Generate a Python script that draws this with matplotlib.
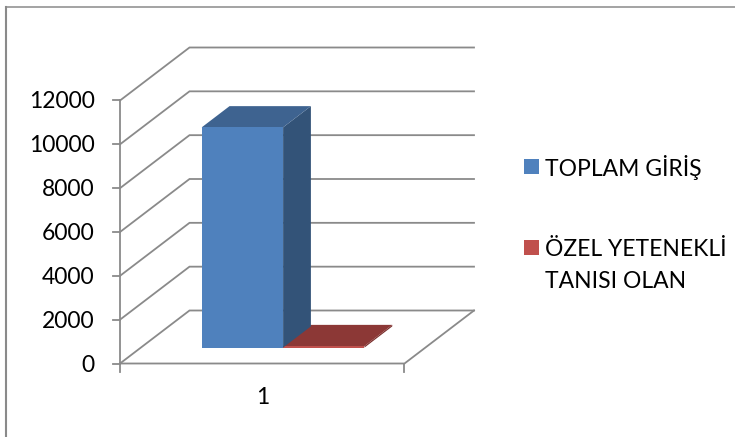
import matplotlib
matplotlib.use("Agg")
import matplotlib.pyplot as plt
from matplotlib.patches import Polygon, Rectangle

plt.rcParams['font.family'] = ['Lato', 'DejaVu Sans']

W, H = 735, 437
categories = ["1"]
series_names = ["TOPLAM GİRİŞ", "ÖZEL YETENEKLİ\nTANISI OLAN"]
series_values = [10050, 70]
y_ticks = [0, 2000, 4000, 6000, 8000, 10000, 12000]
front = ["#4F81BD", "#C0504D"]
side = ["#335378", "#7A2F2D"]
top = ["#3E6390", "#8C3836"]
GRID = "#8A8A8A"

# pixel geometry of the axes box
X0, X1 = 120.0, 404.5
Y0, Y12 = 363.5, 100.5
DX, DY = 69.5, 53.0
ymax = y_ticks[-1]
px_per_val = (Y0 - Y12) / ymax
px_per_x = X1 - X0

fig = plt.figure(figsize=(W / 100, H / 100), dpi=100, facecolor="white")
ax = fig.add_axes([0, 0, 1, 1])
ax.set_xlim((0 - X0) / px_per_x, (W - X0) / px_per_x)
ax.set_ylim((Y0 - H) / px_per_val, Y0 / px_per_val)
ax.axis("off")


def P(x, y, d=0.0):
    """oblique projection: d is depth 0..1"""
    return (x + d * DX / px_per_x, y + d * DY / px_per_val)


def fpx(x, y):
    return (x / W, 1 - y / H)


LW = 1.3
TICK_FS = 16.5
LEG_FS = 16.5
# outer border
fig.add_artist(plt.Line2D([6 / W, 6 / W], [0, 1 - 6.5 / H], color="#8A8A8A", lw=1.5))
fig.add_artist(plt.Line2D([5.5 / W, 1], [1 - 6.5 / H, 1 - 6.5 / H], color="#8A8A8A", lw=1.1))

# walls, floor
for v in y_ticks:
    a, b, c = P(0, v), P(0, v, 1), P(1, v, 1)
    ax.plot([a[0], b[0], c[0]], [a[1], b[1], c[1]], color=GRID, lw=LW, zorder=1, solid_joinstyle="miter")
    ax.plot([a[0] - 7 / px_per_x, a[0]], [v, v], color=GRID, lw=LW, zorder=1)
    ax.text(a[0] - 25.5 / px_per_x, v - 1.5 / px_per_val, str(v), ha="right", va="center",
            fontsize=TICK_FS, color="black")
ax.plot([0, 0], [0, ymax], color=GRID, lw=LW, zorder=1)
f = [P(0, 0), P(1, 0), P(1, 0, 1)]
ax.plot([p[0] for p in f], [p[1] for p in f], color=GRID, lw=LW, zorder=1)
for x in (0, 1):
    ax.plot([x, x], [0, -8 / px_per_val], color=GRID, lw=LW, zorder=1)
ax.text(0.5, -34 / px_per_val, categories[0], ha="center", va="center", fontsize=TICK_FS, color="black")

# bars
bar_w = 0.286
d0, d1 = 0.30, 0.70
x_left = 0.5 - bar_w
for i, (val, name) in enumerate(zip(series_values, series_names)):
    xa = x_left + i * bar_w
    xb = xa + bar_w
    z = 4 - i
    ax.add_patch(Polygon([P(xb, 0, d0), P(xb, 0, d1), P(xb, val, d1), P(xb, val, d0)], fc=side[i], ec="none", zorder=z))
    ax.add_patch(Polygon([P(xa, val, d0), P(xb, val, d0), P(xb, val, d1), P(xa, val, d1)], fc=top[i], ec="none", zorder=z))
    ax.add_patch(Polygon([P(xa, 0, d0), P(xb, 0, d0), P(xb, val, d0), P(xa, val, d0)], fc=front[i], ec="none", zorder=z))

# legend
fig.add_artist(Rectangle(fpx(524, 174), 15 / W, 15 / H, transform=fig.transFigure, fc=front[0], ec="none"))
fig.add_artist(Rectangle(fpx(524, 255), 15 / W, 15 / H, transform=fig.transFigure, fc=front[1], ec="none"))
fig.text(*fpx(545, 168), series_names[0], ha="left", va="center", fontsize=LEG_FS, color="black")
l1, l2 = series_names[1].split("\n")
fig.text(*fpx(545, 249), l1, ha="left", va="center", fontsize=LEG_FS, color="black")
fig.text(*fpx(545, 282), l2, ha="left", va="center", fontsize=LEG_FS, color="black")

fig.savefig("out.png", dpi=100, facecolor="white")
